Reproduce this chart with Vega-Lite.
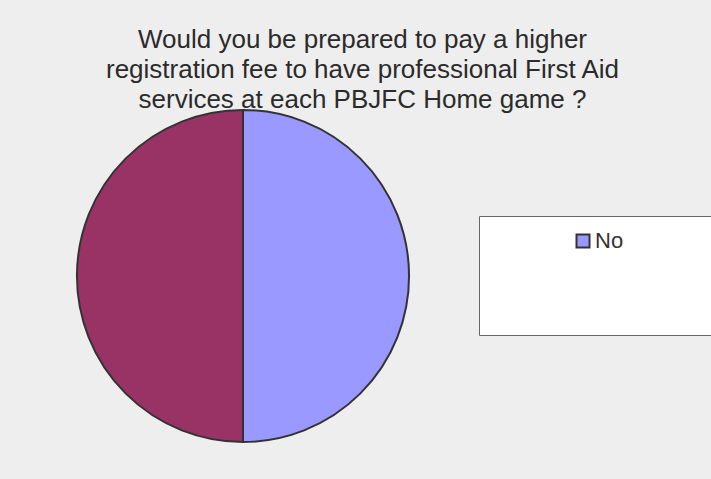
{
  "$schema": "https://vega.github.io/schema/vega-lite/v6.json",
  "width": 486,
  "height": 552,
  "autosize": {"type": "none"},
  "padding": {"left": 0, "top": 0, "right": 225, "bottom": 0},
  "background": "#EEEEEE",
  "title": {
    "text": ["Would you be prepared to pay a higher", "registration fee to have professional First Aid", "services at each PBJFC Home game ?"],
    "frame": "group",
    "anchor": "middle",
    "dx": 119.5,
    "offset": -134,
    "baseline": "alphabetic",
    "fontSize": 26,
    "lineHeight": 30,
    "font": "Liberation Sans",
    "fontWeight": "normal",
    "color": "#2B2B2B"
  },
  "data": {
    "values": [
      {"answer": "No", "count": 50},
      {"answer": "Yes", "count": 50}
    ]
  },
  "mark": {"type": "arc", "radius": 166, "stroke": "#333333", "strokeWidth": 2},
  "encoding": {
    "theta": {"field": "count", "type": "quantitative", "stack": true},
    "color": {
      "field": "answer",
      "type": "nominal",
      "scale": {"domain": ["No", "Yes"], "range": ["#9999FF", "#993366"]},
      "legend": {
        "values": ["No", "Yes"],
        "orient": "none",
        "direction": "horizontal",
        "columnPadding": 60,
        "legendX": 479,
        "legendY": 216,
        "title": "\u00a0\u00a0\u00a0\u00a0\u00a0\u00a0\u00a0\u00a0\u00a0\u00a0\u00a0\u00a0\u00a0\u00a0",
        "titleOrient": "bottom",
        "titleFontSize": 60,
        "titlePadding": 10,
        "padding": 14,
        "fillColor": "#FFFFFF",
        "strokeColor": "#666666",
        "symbolType": "square",
        "symbolSize": 169,
        "symbolStrokeColor": "#333333",
        "symbolStrokeWidth": 2,
        "symbolOffset": 79,
        "labelOffset": 1,
        "labelFontSize": 22,
        "labelFont": "Liberation Sans",
        "labelColor": "#333333",
        "labelExpr": "datum.value === 'Yes' ? '' : datum.label",
        "encode": {
          "symbols": {"update": {"opacity": {"signal": "datum.value === 'Yes' ? 0 : 1"}}}
        }
      }
    }
  },
  "config": {"view": {"stroke": null}}
}
